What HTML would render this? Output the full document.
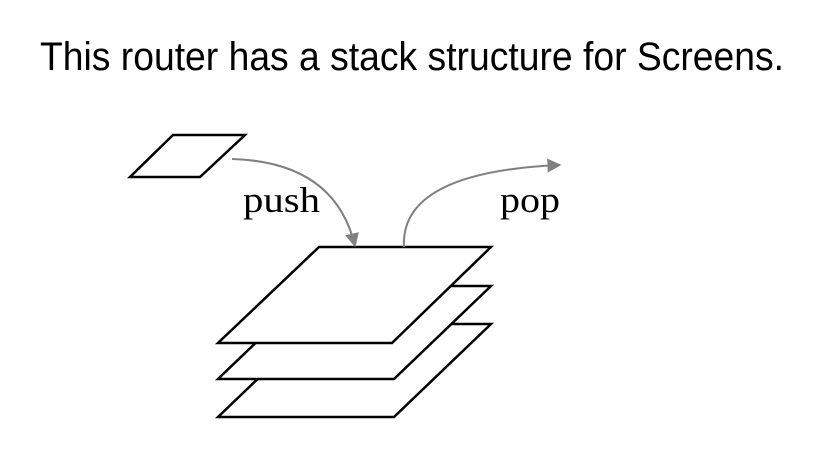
<!DOCTYPE html>
<html><head><meta charset="utf-8"><style>
html,body{margin:0;padding:0;background:#fff;}
svg{display:block;}
</style></head><body>
<svg width="828" height="460" viewBox="0 0 828 460" xmlns="http://www.w3.org/2000/svg">
<defs>
<marker id="ah2" viewBox="0 0 10 10" markerWidth="14" markerHeight="14" refX="9" refY="5" orient="auto" markerUnits="userSpaceOnUse">
<path d="M0,0 L10,5 L0,10 Z" fill="#808080"/>
</marker>
</defs>
<text x="40" y="70" font-family="Liberation Sans, sans-serif" font-size="40" textLength="744" lengthAdjust="spacingAndGlyphs" fill="#000">This router has a stack structure for Screens.</text>
<g fill="#fff" stroke="#000" stroke-width="2.5" stroke-linejoin="miter">
<polygon points="315,324 491,324 394,417 218,417"/>
<polygon points="315,286 491,286 394,379 218,379"/>
<polygon points="319,247 491,247 392,343 218,343"/>
<polygon points="173,135 245,135 200,177 130,177"/>
</g>
<path d="M232,159 Q335,162 355,246" fill="none" stroke="#808080" stroke-width="2" marker-end="url(#ah2)"/>
<path d="M404,247 Q400,172 560,165" fill="none" stroke="#808080" stroke-width="2" marker-end="url(#ah2)"/>
<text x="243" y="212" font-family="Liberation Serif, serif" font-size="36" textLength="77" lengthAdjust="spacingAndGlyphs" fill="#000">push</text>
<text x="500" y="212" font-family="Liberation Serif, serif" font-size="36" textLength="60" lengthAdjust="spacingAndGlyphs" fill="#000">pop</text>
</svg>
</body></html>
